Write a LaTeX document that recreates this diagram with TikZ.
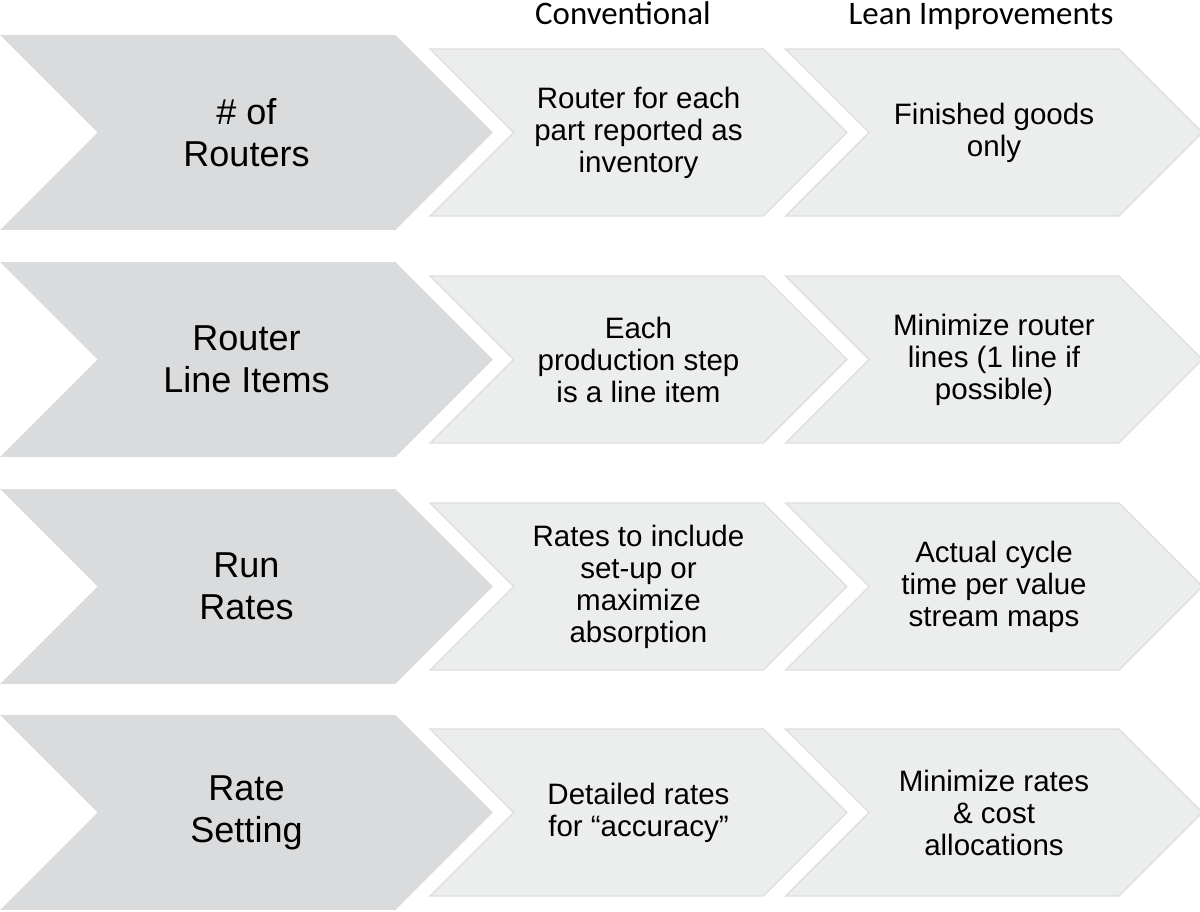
\documentclass[tikz,border=0pt]{standalone}
\usepackage{fontspec}
\setmainfont{Liberation Sans}
\newfontfamily\headfont{Carlito}
\usetikzlibrary{positioning,shapes.symbols}
\definecolor{topicgray}{HTML}{DADBDD}
\definecolor{practicegray}{HTML}{ECEDED}
\definecolor{practiceline}{HTML}{DEDFDF}

\begin{document}
\begin{tikzpicture}[
			x=0.02cm, y=-0.02cm,
			topic/.style={signal, signal from=west, signal to=east, signal pointer angle=90, fill=topicgray, minimum width=9.86cm, minimum height=3.9cm, inner sep=0pt, align=center, font=\fontsize{20.5}{24}\selectfont},
			practice/.style={signal, signal from=west, signal to=east, signal pointer angle=90, fill=practicegray, draw=practiceline, line width=0.8pt, minimum width=8.34cm, minimum height=3.34cm, inner sep=0pt, align=center, font=\fontsize{16.8}{18.2}\selectfont},
			heading/.style={anchor=base, font=\headfont\fontsize{18.7}{22}\selectfont}
			]
			\useasboundingbox (0,0) rectangle (1200,912);
			
			% Column headings
			\node[heading] (conv) at (623,25) {Conventional};
			\node[heading] (lean) at (981,25) {Lean Improvements};
			
			% Row 1: routers
			\node[topic] (routers) at (246.5,132.5) {\# of\\Routers};
			\node[practice] (routersconv) at (638.5,132.5) {Router for each\\part reported as\\inventory};
			\node[practice] (routerslean) at (994,132.5) {Finished goods\\only};
			
			% Row 2: line items
			\node[topic] (items) at (246.5,359.5) {Router\\Line Items};
			\node[practice] (itemsconv) at (638.5,359.5) {Each\\production step\\is a line item};
			\node[practice] (itemslean) at (994,359.5) {Minimize router\\lines (1 line if\\possible)};
			
			% Row 3: run rates
			\node[topic] (runrates) at (246.5,586.5) {Run\\Rates};
			\node[practice] (runratesconv) at (638.5,586.5) {Rates to include\\set-up or\\maximize\\absorption};
			\node[practice] (runrateslean) at (994,586.5) {Actual cycle\\time per value\\stream maps};
			
			% Row 4: rate setting
			\node[topic] (setting) at (246.5,812.5) {Rate\\Setting};
			\node[practice] (settingconv) at (638.5,812.5) {Detailed rates\\for “accuracy”};
			\node[practice] (settinglean) at (994,812.5) {Minimize rates\\\& cost\\allocations};
			
		\end{tikzpicture}
\end{document}
